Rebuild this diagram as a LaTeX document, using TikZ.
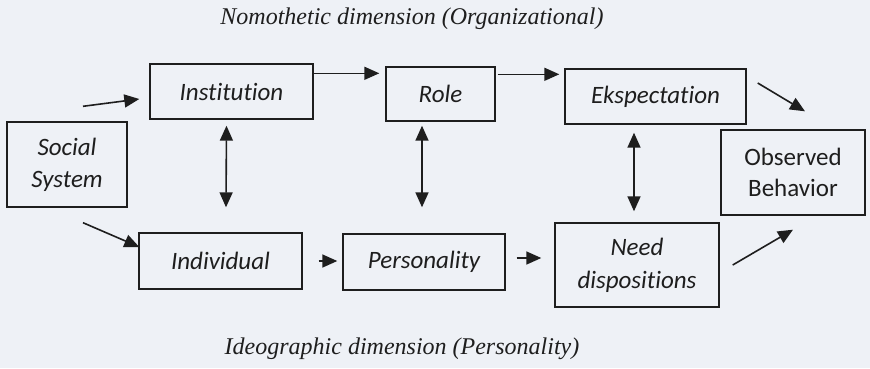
\documentclass[tikz,border=0pt]{standalone}
\usepackage{fontspec}
\setmainfont{Liberation Serif}
\newfontfamily\boxfont[Ligatures=NoCommon]{Carlito}
\usetikzlibrary{arrows.meta,calc}
\definecolor{paper}{RGB}{238,241,246}
\definecolor{ink}{RGB}{30,30,30}
\tikzset{
  box/.style={draw=ink, line width=1.4pt, rectangle, inner sep=0pt, align=center,
              font=\boxfont\itshape\fontsize{25}{32}\selectfont, text=ink},
  arr/.style={draw=ink, line width=1.6pt, -{Triangle[length=15pt,width=13pt]}},
  darr/.style={draw=ink, line width=1.6pt, {Triangle[length=15pt,width=13pt]}-{Triangle[length=15pt,width=13pt]}},
  titletext/.style={font=\itshape\fontsize{24}{27}\selectfont, text=ink}
}
\begin{document}
\begin{tikzpicture}[x=1pt,y=-1pt]
\fill[paper] (0,0) rectangle (870,368);
\useasboundingbox (0,0) rectangle (870,368);

\node[titletext] (t1) at (412,19) {Nomothetic dimension (Organizational)};
\node[titletext] (t2) at (402,349) {Ideographic dimension (Personality)};

\node[box, minimum width=120pt, minimum height=85pt] (soc) at (67,164.5) {Social\\System};
\node[box, minimum width=163pt, minimum height=55pt] (inst) at (231.5,91.5) {Institution};
\node[box, minimum width=109pt, minimum height=54pt] (role) at (440.5,94) {Role};
\node[box, minimum width=181pt, minimum height=55pt] (eksp) at (655.5,96.5) {Ekspectation};
\node[box, minimum width=144pt, minimum height=85pt, font=\boxfont\fontsize{25}{31}\selectfont] (obs) at (793,172.5) {Observed\\Behavior};
\node[box, minimum width=163pt, minimum height=56pt] (ind) at (220.5,261) {Individual};
\node[box, minimum width=162pt, minimum height=56pt] (pers) at (424,262) {Personality};
\node[box, minimum width=164pt, minimum height=84pt, font=\boxfont\itshape\fontsize{25}{33}\selectfont] (need) at (637,265) {Need\\dispositions};

\draw[arr] ($(soc.north)+(16,-15)$) -- ($(inst.west)+(-10,7.5)$);
\draw[arr] ($(inst.north east)+(0,10)$) -- ($(role.north west)+(-6,7)$);
\draw[arr] ($(role.north east)+(2,8)$) -- ($(eksp.north west)+(-5,6)$);
\draw[arr] ($(eksp.east)+(11,-13.5)$) -- ($(obs.north)+(12,-18)$);
\draw[darr] ($(inst.south)+(-5,6)$) -- ($(ind.north)+(5.5,-25)$);
\draw[darr] ($(role.south)+(-18.5,4)$) -- ($(pers.north)+(-2,-26)$);
\draw[darr] ($(eksp.south)+(-21.5,8)$) -- ($(need.north)+(-3,-11)$);
\draw[arr] ($(soc.south)+(16,15)$) -- ($(ind.west)+(1,-14)$);
\draw[arr] ($(ind.east)+(16,0)$) -- ($(pers.west)+(-5,-1)$);
\draw[arr] ($(pers.east)+(11,-4)$) -- ($(need.west)+(-13,-7)$);
\draw[arr] ($(need.east)+(13,0)$) -- ($(obs.south)+(0,14)$);
\end{tikzpicture}
\end{document}
